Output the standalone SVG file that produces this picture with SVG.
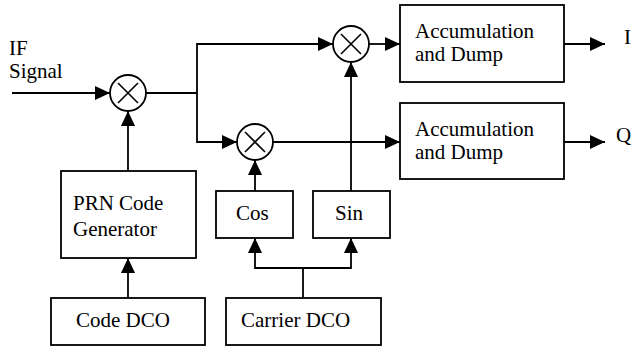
<svg xmlns="http://www.w3.org/2000/svg" width="633" height="348" viewBox="0 0 633 348">
<style>
.box{fill:#fff;stroke:#000;stroke-width:1.8}
.mix{fill:#fff;stroke:#000;stroke-width:1.8}
.ln{fill:none;stroke:#000;stroke-width:1.8}
.t{font-family:"Liberation Serif","Times New Roman",serif;font-size:21px;fill:#000}
</style>
<defs>
<marker id="ah" markerUnits="userSpaceOnUse" markerWidth="16" markerHeight="16" refX="15" refY="7" orient="auto">
<path d="M0,0 L15,7 L0,14 z" fill="#000"/>
</marker>
<g id="cross-sym"><path d="M-10,-10 L10,10 M-10,10 L10,-10" stroke="#000" stroke-width="1.6"/></g>
</defs>
<rect width="633" height="348" fill="#fff"/>
<g id="connectors">
<path class="ln" d="M12,93 L110,93" marker-end="url(#ah)"/>
<path class="ln" d="M146,93 L197,93"/>
<path class="ln" d="M197,93 L197,44 L333,44" marker-end="url(#ah)"/>
<path class="ln" d="M197,93 L197,142 L237,142" marker-end="url(#ah)"/>
<path class="ln" d="M128,171 L128,111" marker-end="url(#ah)"/>
<path class="ln" d="M128,298 L128,258" marker-end="url(#ah)"/>
<path class="ln" d="M369,44 L400,44" marker-end="url(#ah)"/>
<path class="ln" d="M273,142 L400,142" marker-end="url(#ah)"/>
<path class="ln" d="M255,191 L255,160" marker-end="url(#ah)"/>
<path class="ln" d="M351,191 L351,62" marker-end="url(#ah)"/>
<path class="ln" d="M303,298 L303,268"/>
<path class="ln" d="M303,268 L255,268 L255,238" marker-end="url(#ah)"/>
<path class="ln" d="M303,268 L351,268 L351,238" marker-end="url(#ah)"/>
<path class="ln" d="M564,44 L605,44" marker-end="url(#ah)"/>
<path class="ln" d="M564,142 L605,142" marker-end="url(#ah)"/>
</g>
<g id="if-label"><text class="t" x="9" y="55">IF</text><text class="t" x="9" y="78">Signal</text></g>
<g id="mixer1"><circle class="mix" cx="128" cy="93" r="18"/><use href="#cross-sym" x="128" y="93"/></g>
<g id="mixer2"><circle class="mix" cx="255" cy="142" r="18"/><use href="#cross-sym" x="255" y="142"/></g>
<g id="mixer3"><circle class="mix" cx="351" cy="44" r="18"/><use href="#cross-sym" x="351" y="44"/></g>
<g id="acc-i"><rect class="box" x="400" y="5" width="164" height="77"/><text class="t" x="415" y="38">Accumulation</text><text class="t" x="415" y="61">and Dump</text></g>
<g id="acc-q"><rect class="box" x="400" y="103" width="164" height="76"/><text class="t" x="415" y="136">Accumulation</text><text class="t" x="415" y="159">and Dump</text></g>
<g id="out-i"><text class="t" x="624" y="44">I</text></g>
<g id="out-q"><text class="t" x="616" y="142">Q</text></g>
<g id="prn"><rect class="box" x="61" y="171" width="135" height="87"/><text class="t" x="73" y="210">PRN Code</text><text class="t" x="73" y="236">Generator</text></g>
<g id="cos"><rect class="box" x="216" y="191" width="77" height="47"/><text class="t" x="236" y="220">Cos</text></g>
<g id="sin"><rect class="box" x="313" y="191" width="77" height="47"/><text class="t" x="335" y="220">Sin</text></g>
<g id="code-dco"><rect class="box" x="51" y="298" width="154" height="47"/><text class="t" x="76" y="327">Code DCO</text></g>
<g id="carrier-dco"><rect class="box" x="226" y="298" width="155" height="47"/><text class="t" x="241" y="327">Carrier DCO</text></g>
</svg>
